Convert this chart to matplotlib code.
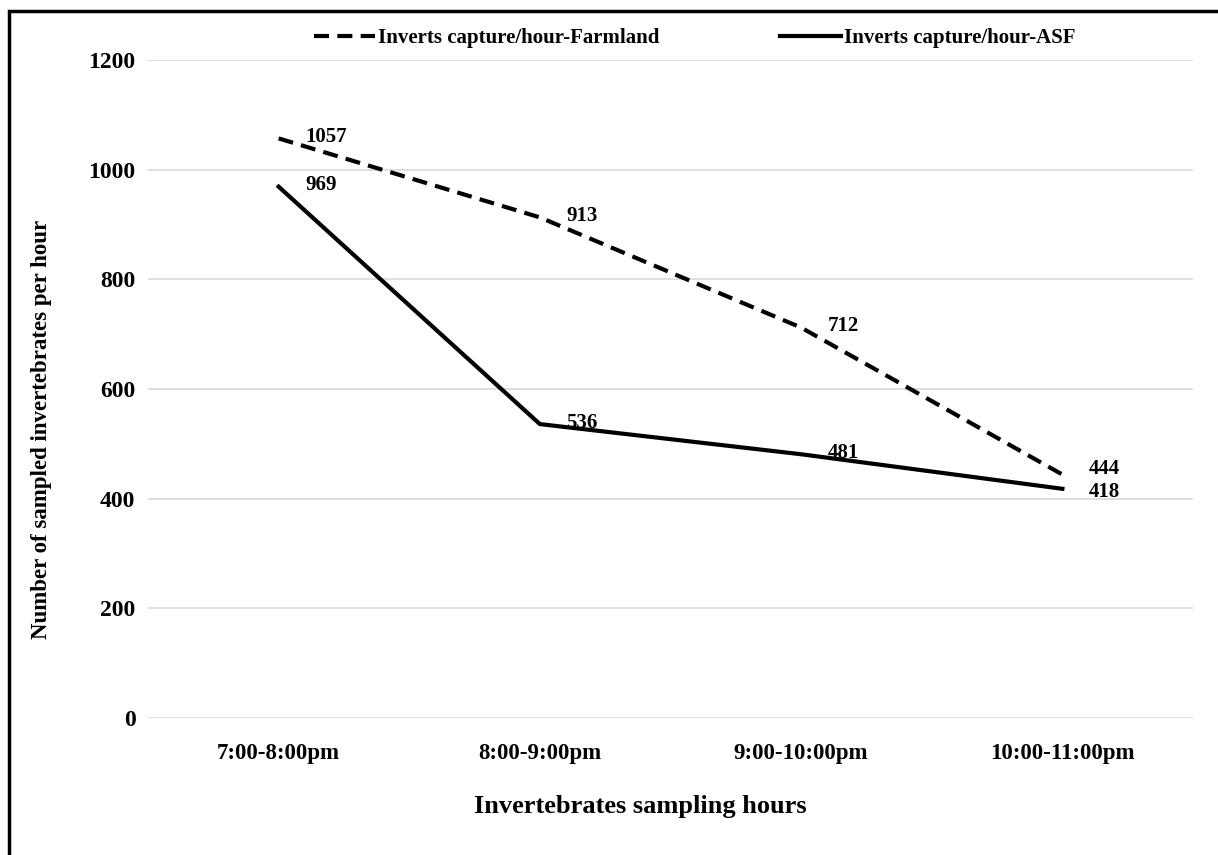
import matplotlib.pyplot as plt
from matplotlib.patches import Rectangle

horas = ['7:00-8:00pm', '8:00-9:00pm', '9:00-10:00pm', '10:00-11:00pm']
farmland = [1057, 913, 712, 444]
asf = [969, 536, 481, 418]
yticks = [0, 200, 400, 600, 800, 1000, 1200]

plt.rcParams['font.family'] = ['Liberation Serif', 'DejaVu Serif']
plt.rcParams['font.weight'] = 'bold'

fig = plt.figure(figsize=(12.18, 8.55), dpi=100)
ax = fig.add_axes([148 / 1218, 1 - 718 / 855, (1193 - 148) / 1218, (718 - 60) / 855])

x = list(range(len(horas)))
ax.plot(x, farmland, color='black', lw=3, ls=(0, (3.6, 2.0)), label='Inverts capture/hour-Farmland')
ax.plot(x, asf, color='black', lw=3, ls='-', label='Inverts capture/hour-ASF')

# rótulos dos valores, à direita de cada ponto (os dois últimos afastados um pouco)
for i, v in enumerate(farmland):
    dy = 4 if i == len(farmland) - 1 else 1
    ax.annotate(str(v), (i, v), xytext=(19, dy), textcoords='offset points',
                ha='left', va='center', fontsize=15, fontweight='bold')
for i, v in enumerate(asf):
    dy = -2 if i == len(asf) - 1 else 1
    ax.annotate(str(v), (i, v), xytext=(19, dy), textcoords='offset points',
                ha='left', va='center', fontsize=15, fontweight='bold')

ax.set_xlim(-0.5, 3.5)
ax.set_ylim(0, 1200)
ax.set_yticks(yticks)
ax.set_xticks(x)
ax.set_xticklabels(horas, fontsize=16.5, fontweight='bold')
ax.tick_params(axis='y', labelsize=17, length=0, pad=9)
ax.tick_params(axis='x', length=0, pad=18)
for s in ax.spines.values():
    s.set_visible(False)
ax.grid(axis='y', color='#d9d9d9', lw=1.2)
ax.set_axisbelow(True)

ax.set_xlabel('Invertebrates sampling hours', fontsize=19, fontweight='bold')
ax.xaxis.set_label_coords(0.471, -0.117)
ax.set_ylabel('Number of sampled invertebrates per hour', fontsize=16.5, fontweight='bold')
ax.yaxis.set_label_coords(-0.092, 0.439)

fig.legend(loc='center', bbox_to_anchor=(0.5705, 1 - 38 / 855), ncol=2, frameon=False,
           fontsize=15, handlelength=2.9, handletextpad=0.15, columnspacing=5.8)

# moldura preta em volta da figura
fig.patches.append(Rectangle((9 / 1218, -0.05), 1.1, 1 - 11 / 855 + 0.05, transform=fig.transFigure,
                             fill=False, edgecolor='black', lw=2.5))

fig.savefig('out.png', dpi=100)
